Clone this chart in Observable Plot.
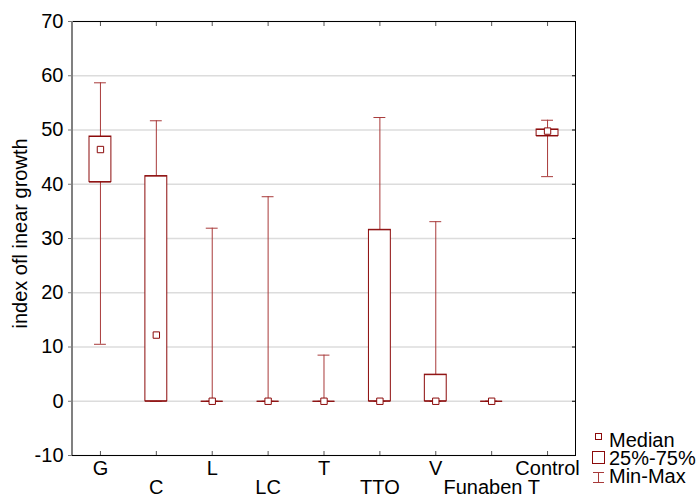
<!DOCTYPE html>
<html>
<head>
<meta charset="utf-8">
<script src="https://cdn.jsdelivr.net/npm/d3@7"></script>
<script src="https://cdn.jsdelivr.net/npm/@observablehq/plot@0.6"></script>
<style>
  html, body { margin: 0; padding: 0; background: #fff; }
  svg { display: block; }
</style>
</head>
<body>
<div id="chart"></div>
<script>
const categories = ["G", "C", "L", "LC", "T", "TTO", "V", "Funaben T", "Control"];
const minVals    = [10.5, 0, 0, 0, 0, 0, 0, 0, 41.4];
const q1Vals     = [40.4, 0, 0, 0, 0, 0, 0, 0, 48.9];
const medianVals = [46.4, 12.2, 0, 0, 0, 0, 0, 0, 49.8];
const q3Vals     = [48.8, 41.5, 0, 0, 0, 31.6, 4.9, 0, 50.1];
const maxVals    = [58.7, 51.7, 31.9, 37.7, 8.5, 52.3, 33.1, 0, 51.8];
const yTicks = [-10, 0, 10, 20, 30, 40, 50, 60, 70];
const yLabel = "index ofl inear growth";
const legendLabels = ["Median", "25%-75%", "Min-Max"];

const data = categories.map((c, i) => ({
  cat: c, min: minVals[i], q1: q1Vals[i], med: medianVals[i], q3: q3Vals[i], max: maxVals[i]
}));
const rowA = categories.filter((c, i) => i % 2 === 0);
const rowB = categories.filter((c, i) => i % 2 === 1);

const dark = "#8b0a0a";
const whisk = "#a83a3a";
const font = "Liberation Sans, Arial, sans-serif";

const plot = Plot.plot({
  width: 697,
  height: 498,
  marginLeft: 72,
  marginRight: 122,
  marginTop: 21,
  marginBottom: 43,
  style: { fontFamily: font, fontSize: "20px", background: "#fff", color: "#000" },
  x: { domain: categories, padding: 0, align: 0.5, round: false, axis: null },
  y: { domain: [-10, 70], axis: null },
  marks: [
    Plot.gridY(yTicks, { stroke: "#dcdcdc", strokeOpacity: 1, strokeWidth: 1.5 }),
    Plot.ruleX(data, { x: "cat", y1: "min", y2: "max", stroke: whisk, strokeWidth: 1 }),
    Plot.tickY(data, { x: "cat", y: "max", stroke: whisk, insetLeft: 22, insetRight: 22 }),
    Plot.tickY(data, { x: "cat", y: "min", stroke: whisk, insetLeft: 22, insetRight: 22 }),
    Plot.rectY(data, { x: "cat", y1: "q1", y2: "q3", fill: "#fff", stroke: dark, strokeWidth: 1, insetLeft: 17, insetRight: 17 }),
    Plot.tickY(data, { x: "cat", y: "q1", stroke: dark, insetLeft: 17, insetRight: 17 }),
    Plot.tickY(data, { x: "cat", y: "q3", stroke: dark, insetLeft: 17, insetRight: 17 }),
    Plot.dot(data, { x: "cat", y: "med", symbol: "square", r: 3.6, fill: "#fff", stroke: dark, strokeWidth: 1 }),
    Plot.frame({ stroke: "#000", strokeWidth: 1 }),
    Plot.axisY(yTicks, { anchor: "left", tickSize: 4, tickPadding: 5, stroke: "#777", fontSize: 20, tickFormat: d => String(d), label: null }),
    Plot.axisY(yTicks, { anchor: "right", tickSize: -4, tickFormat: () => "", stroke: "#000", label: null }),
    Plot.axisX(categories, { anchor: "bottom", tickSize: -4, tickFormat: () => "", stroke: "#555", label: null }),
    Plot.axisX(categories, { anchor: "top", tickSize: -4, tickFormat: () => "", stroke: "#555", label: null }),
    Plot.axisX(rowA, { anchor: "bottom", tickSize: 0, tickPadding: 5, fontSize: 20, label: null }),
    Plot.axisX(rowB, { anchor: "bottom", tickSize: 0, tickPadding: 24, fontSize: 20, label: null }),
    Plot.text([yLabel], { frameAnchor: "left", textAnchor: "middle", lineAnchor: "middle", rotate: -90, dx: -52, dy: -5, fontSize: 20, fill: "#000" })
  ]
});

document.getElementById("chart").appendChild(plot);

// left axis line (grey, thicker) and legend
const svg = d3.select(plot);
svg.append("line").attr("x1", 72).attr("x2", 72).attr("y1", 21).attr("y2", 455)
  .attr("stroke", "#808080").attr("stroke-width", 2);

const lg = svg.append("g").attr("font-family", font).attr("font-size", 20).attr("text-anchor", "start");
lg.append("rect").attr("x", 595.5).attr("y", 433.5).attr("width", 6).attr("height", 6)
  .attr("fill", "#fff").attr("stroke", dark);
lg.append("rect").attr("x", 592.5).attr("y", 451.5).attr("width", 12).attr("height", 12)
  .attr("fill", "#fff").attr("stroke", dark);
lg.append("line").attr("x1", 598.5).attr("x2", 598.5).attr("y1", 472).attr("y2", 483).attr("stroke", whisk);
lg.append("line").attr("x1", 593).attr("x2", 604).attr("y1", 472.5).attr("y2", 472.5).attr("stroke", whisk);
lg.append("line").attr("x1", 593).attr("x2", 604).attr("y1", 482.5).attr("y2", 482.5).attr("stroke", whisk);
legendLabels.forEach((t, i) => {
  lg.append("text").attr("x", 609).attr("y", 447 + i * 18).attr("fill", "#000").attr("text-anchor", "start").text(t);
});
</script>
</body>
</html>
